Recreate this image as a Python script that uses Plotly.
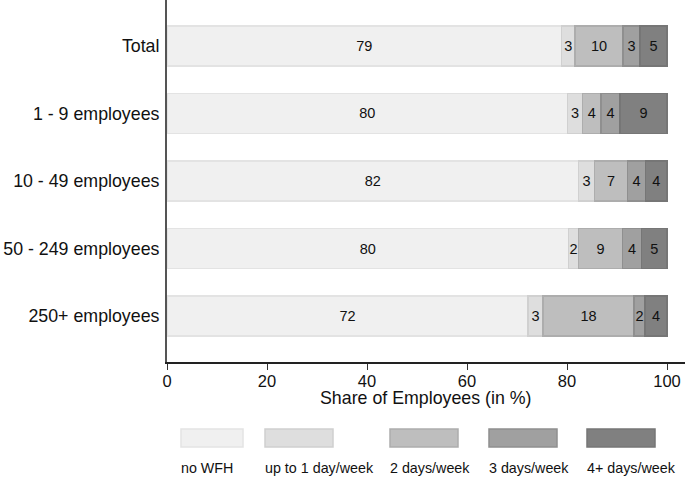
import plotly.graph_objects as go

categories = ["Total", "1 - 9 employees", "10 - 49 employees", "50 - 249 employees", "250+ employees"]
series_names = ["no WFH", "up to 1 day/week", "2 days/week", "3 days/week", "4+ days/week"]
no_wfh = [78.9, 80.1, 82.3, 80.3, 72.2]
up_to_1 = [2.7, 3.0, 3.2, 2.0, 3.0]
two_days = [9.6, 3.7, 6.6, 8.8, 18.2]
three_days = [3.4, 3.8, 3.6, 3.8, 2.2]
four_plus = [5.4, 9.4, 4.3, 5.1, 4.4]
x_ticks = [0, 20, 40, 60, 80, 100]
x_title = "Share of Employees (in %)"

series_values = [no_wfh, up_to_1, two_days, three_days, four_plus]
fills = ["#f0f0f0", "#dedede", "#bebebe", "#a0a0a0", "#808080"]
borders = ["#e3e3e3", "#d0d0d0", "#adadad", "#8f8f8f", "#767676"]

FONT = "Liberation Sans, Arial, Helvetica, sans-serif"
W, H = 685, 481
L, R, T, B = 167, 0, 0, 119
PW, PH = W - L - R, H - T - B

fig = go.Figure()
for name, vals, fc, bc in zip(series_names, series_values, fills, borders):
    fig.add_trace(go.Bar(
        y=categories, x=vals, name=name, orientation="h",
        marker=dict(color=fc, line=dict(color=bc, width=1.5)),
        texttemplate="%{x:.0f}", textposition="inside", insidetextanchor="middle",
        textangle=0, insidetextfont=dict(size=14.5, color="#111111", family=FONT),
        showlegend=False, cliponaxis=False, hoverinfo="skip",
    ))

def px_x(p):
    return (p - L) / PW

def px_y(p):
    return (H - B - p) / PH

# custom legend: key boxes with labels below
legend_boxes = [(181, 243), (265, 333), (390, 458), (489, 557), (587, 655)]
shapes = []
annotations = []
for (x0, x1), name, fc, bc in zip(legend_boxes, series_names, fills, borders):
    shapes.append(dict(type="rect", xref="paper", yref="paper",
                       x0=px_x(x0), x1=px_x(x1), y0=px_y(447), y1=px_y(429),
                       fillcolor=fc, line=dict(color=bc, width=1.5)))
    annotations.append(dict(xref="paper", yref="paper", x=px_x(x0) - 0.004, y=px_y(468),
                            text=name, showarrow=False, xanchor="left", yanchor="middle",
                            font=dict(size=14.3, color="#111111", family=FONT)))

# x-axis title
annotations.append(dict(xref="paper", yref="paper", x=0.5, y=px_y(398),
                        text=x_title, showarrow=False, xanchor="center", yanchor="middle",
                        font=dict(size=17.8, color="#111111", family=FONT)))

fig.update_layout(
    width=W, height=H, barmode="stack", bargap=0.407,
    margin=dict(l=L, r=R, t=T, b=B, autoexpand=False),
    paper_bgcolor="white", plot_bgcolor="white",
    font=dict(family=FONT, color="#111111", size=18),
    uniformtext=dict(minsize=14.5, mode="show"),
    shapes=shapes, annotations=annotations,
    xaxis=dict(range=[0, PW / 5.0], tickvals=x_ticks, ticks="outside", ticklen=6,
               tickcolor="#333333", tickwidth=1.3, showline=True, linecolor="#222222",
               linewidth=1.5, showgrid=False, zeroline=False, automargin=False,
               ticklabelstandoff=-3,
               tickfont=dict(size=16.5, family=FONT, color="#111111")),
    yaxis=dict(range=[4.68, -0.68], showline=True, linecolor="#555555", linewidth=2,
               ticks="", showgrid=False, zeroline=False, ticklabelstandoff=2,
               automargin=False,
               tickfont=dict(size=17.8, family=FONT, color="#111111")),
)

fig.write_html("out.html", config={"displayModeBar": False},
               post_script="document.body.style.margin='0';document.body.style.overflow='hidden';")
